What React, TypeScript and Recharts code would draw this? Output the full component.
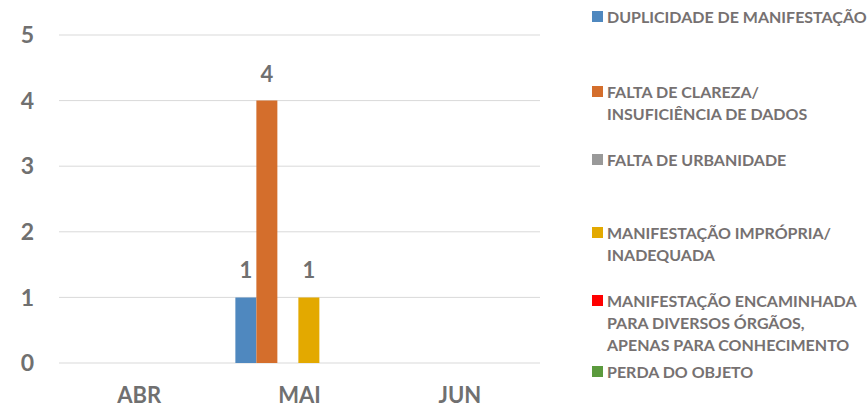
import React from 'react';
import { BarChart, Bar, XAxis, YAxis, CartesianGrid, LabelList } from 'recharts';

const MONTHS = ['ABR', 'MAI', 'JUN'];
const DUPLICIDADE = [0, 1, 0];
const FALTA_CLAREZA = [0, 4, 0];
const FALTA_URBANIDADE = [0, 0, 0];
const IMPROPRIA = [0, 1, 0];
const ENCAMINHADA = [0, 0, 0];
const PERDA_OBJETO = [0, 0, 0];
const Y_TICKS = [0, 1, 2, 3, 4, 5];

const SERIES = [
  { key: 'dup', name: 'DUPLICIDADE DE MANIFESTAÇÃO', values: DUPLICIDADE, color: '#4f88bf' },
  { key: 'cla', name: 'FALTA DE CLAREZA/\nINSUFICIÊNCIA DE DADOS', values: FALTA_CLAREZA, color: '#d46e2c' },
  { key: 'urb', name: 'FALTA DE URBANIDADE', values: FALTA_URBANIDADE, color: '#999999' },
  { key: 'imp', name: 'MANIFESTAÇÃO IMPRÓPRIA/\nINADEQUADA', values: IMPROPRIA, color: '#e3a900' },
  { key: 'enc', name: 'MANIFESTAÇÃO ENCAMINHADA\nPARA DIVERSOS ÓRGÃOS,\nAPENAS PARA CONHECIMENTO', values: ENCAMINHADA, color: '#ff0000' },
  { key: 'per', name: 'PERDA DO OBJETO', values: PERDA_OBJETO, color: '#5b9a3d' },
];

const data = MONTHS.map((m, i) => {
  const row: Record<string, string | number> = { month: m };
  SERIES.forEach(s => { row[s.key] = s.values[i]; });
  return row;
});

const FONT = 'Lato, "Open Sans", sans-serif';
const TEXT = '#707070';
// top of each legend item (px from chart top)
const LEGEND_TOPS = [6, 81, 149, 222, 290, 361];

const LegendBox = () => (
  <div style={{ position: 'absolute', left: 592, top: 0, width: 276, height: 408 }}>
    {SERIES.map((s, i) => (
      <div key={s.key} style={{ position: 'absolute', top: LEGEND_TOPS[i], left: 0, display: 'flex' }}>
        <span style={{ width: 11, height: 11, background: s.color, marginTop: 5, marginRight: 4, flexShrink: 0 }} />
        <span style={{ whiteSpace: 'pre', fontFamily: FONT, fontWeight: 700, fontSize: 16, lineHeight: '22px', color: '#767171' }}>
          {s.name}
        </span>
      </div>
    ))}
  </div>
);

const renderLabel = (props: any) => {
  const { x, y, width, value } = props;
  if (!value) return null;
  return (
    <text x={x + width / 2} y={y - 19} textAnchor="middle" fill={TEXT}
      style={{ fontFamily: FONT, fontWeight: 700, fontSize: 22 }}>
      {value}
    </text>
  );
};

export default function App() {
  return (
    <div style={{ position: 'absolute', left: 0, top: 0, width: 868, height: 408, background: '#fff' }}>
      <BarChart width={868} height={408} data={data}
        margin={{ top: 35, right: 328, bottom: 0, left: 0 }}
        barGap={0} barCategoryGap="10%">
        <CartesianGrid vertical={false} stroke="#d9d9d9" />
        <XAxis dataKey="month" axisLine={false} tickLine={false} tickSize={0} tickMargin={24} height={45}
          tick={{ fill: TEXT, fontFamily: FONT, fontWeight: 700, fontSize: 22 }} />
        <YAxis domain={[0, 5]} ticks={Y_TICKS} axisLine={false} tickLine={false} tickSize={0} tickMargin={25} width={59}
          tick={{ fill: TEXT, fontFamily: FONT, fontWeight: 700, fontSize: 23 }} />
        {SERIES.map(s => (
          <Bar key={s.key} dataKey={s.key} name={s.name} fill={s.color} isAnimationActive={false}>
            <LabelList dataKey={s.key} content={renderLabel} />
          </Bar>
        ))}
      </BarChart>
      <LegendBox />
    </div>
  );
}
